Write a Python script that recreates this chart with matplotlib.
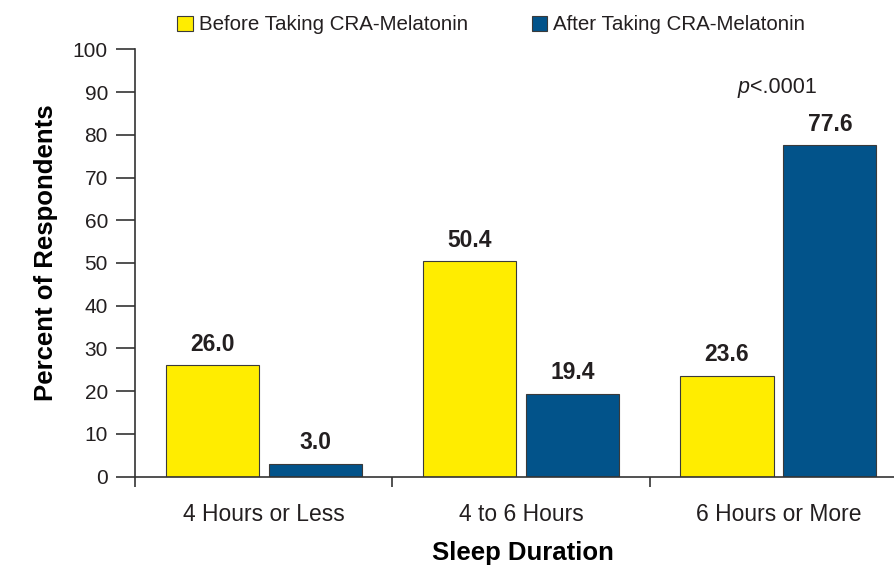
import numpy as np
import matplotlib
matplotlib.use("Agg")
import matplotlib.pyplot as plt

categories = ["4 Hours or Less", "4 to 6 Hours", "6 Hours or More"]
before = [26.0, 50.4, 23.6]
after = [3.0, 19.4, 77.6]
series_names = ["Before Taking CRA-Melatonin", "After Taking CRA-Melatonin"]
yticks = list(range(0, 101, 10))

YELLOW = "#FFED00"
BLUE = "#02538A"
INK = "#231F20"

plt.rcParams["font.family"] = ["Liberation Sans", "DejaVu Sans"]
plt.rcParams["text.color"] = INK

fig = plt.figure(figsize=(8.95, 5.67), dpi=100)
ax = fig.add_axes([135 / 895, 1 - 476.5 / 567, 1 - 135 / 895, 427 / 567])

x = np.arange(len(categories))
w = 0.362
off = 0.20
b1 = ax.bar(x - off, before, w, color=YELLOW, edgecolor="#3a3a3a", linewidth=0.8,
            label=series_names[0], zorder=2)
b2 = ax.bar(x + off, after, w, color=BLUE, edgecolor="#3a3a3a", linewidth=0.8,
            label=series_names[1], zorder=2)

# value labels above bars
for bars, vals in ((b1, before), (b2, after)):
    for r, v in zip(bars, vals):
        ax.text(r.get_x() + r.get_width() / 2, v + 3.4, f"{v:.1f}", ha="center",
                va="baseline", fontsize=16.5, fontweight="bold", color=INK)

ax.text(1.889, 91, "p", style="italic", fontsize=15.5, ha="right", va="center")
ax.text(1.889, 91, "<.0001", fontsize=15.5, ha="left", va="center")

ax.set_xlim(-0.5, 2.453)
ax.set_ylim(0, 100)
ax.set_yticks(yticks)
ax.tick_params(axis="y", direction="out", length=13.5, width=1.2, color="#333333",
               labelsize=15, labelcolor=INK, pad=6)
ax.set_xticks([-0.5, 0.5, 1.5])
ax.set_xticklabels([])
ax.set_xticks(x, minor=True)
ax.set_xticklabels(categories, minor=True)
ax.tick_params(axis="x", which="major", direction="out", length=7.5, width=1.2, color="#333333")
ax.tick_params(axis="x", which="minor", length=0, labelsize=16.5, labelcolor=INK, pad=19)

for s in ("top", "right"):
    ax.spines[s].set_visible(False)
for s in ("left", "bottom"):
    ax.spines[s].set_linewidth(1.2)
    ax.spines[s].set_color("#333333")

ax.set_ylabel("Percent of Respondents", fontsize=18.5, fontweight="bold")
ax.set_xlabel("Sleep Duration", fontsize=18.5, fontweight="bold")
ax.yaxis.set_label_coords(-0.1015, 0.5246)
ax.xaxis.set_label_coords(0.5105, -0.152)

fig.legend(handles=[b1, b2], labels=series_names, loc="center", bbox_to_anchor=(0.549, 1 - 25 / 567),
           ncol=2, frameon=False, fontsize=14.8, handlelength=0.75, handleheight=0.75,
           handletextpad=0.3, columnspacing=3.1)

fig.savefig("out.png", dpi=100)
